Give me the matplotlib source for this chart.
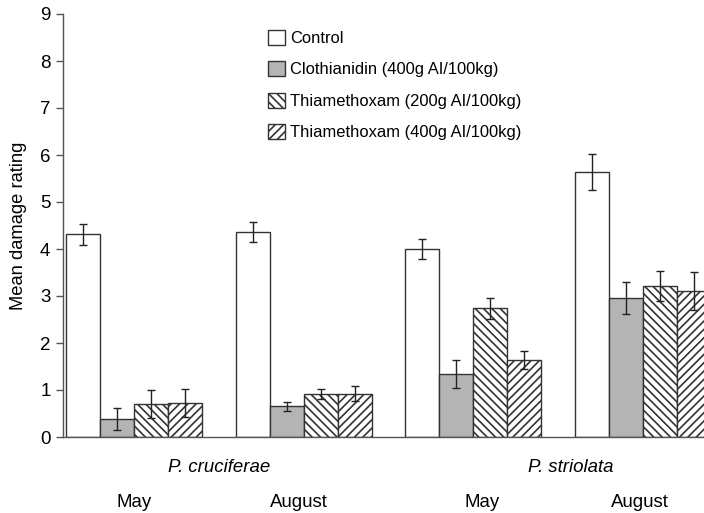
import matplotlib
matplotlib.use("Agg")
import matplotlib.pyplot as plt
import numpy as np

plt.rcParams['font.family'] = ['Liberation Sans', 'DejaVu Sans']
plt.rcParams['hatch.linewidth'] = 1.2

months = ["May", "August", "May", "August"]
species = ["P. cruciferae", "P. striolata"]
treatments = ["Control", "Clothianidin (400g AI/100kg)",
              "Thiamethoxam (200g AI/100kg)", "Thiamethoxam (400g AI/100kg)"]

control = [4.31, 4.36, 4.00, 5.64]
control_err = [0.23, 0.21, 0.22, 0.38]
clothianidin = [0.38, 0.65, 1.34, 2.96]
clothianidin_err = [0.24, 0.09, 0.30, 0.34]
thia200 = [0.70, 0.91, 2.74, 3.21]
thia200_err = [0.30, 0.11, 0.22, 0.32]
thia400 = [0.72, 0.92, 1.64, 3.11]
thia400_err = [0.30, 0.16, 0.19, 0.40]

series = [control, clothianidin, thia200, thia400]
errors = [control_err, clothianidin_err, thia200_err, thia400_err]
faces = ["white", "#b4b4b4", "white", "white"]
hatches = [None, None, "\\\\\\\\", "////"]

fig = plt.figure(figsize=(7.04, 5.13), dpi=100)
ax = fig.add_axes([63/704, 76/513, 641/704, 423/513])

x = np.arange(len(months))
w = 0.2
edge = "#333333"
for i, (vals, errs) in enumerate(zip(series, errors)):
    pos = x + (i - 1.5) * w
    ax.bar(pos, vals, width=w, color=faces[i], edgecolor=edge, linewidth=1.0,
           hatch=hatches[i], label=treatments[i], zorder=2)
    ax.errorbar(pos, vals, yerr=errs, fmt="none", ecolor="#222222",
                elinewidth=1.0, capsize=3, capthick=1.0, zorder=3)

ax.set_xlim(-0.418, 3.359)
ax.set_ylim(0, 9)
ax.set_yticks(range(0, 10))
ax.tick_params(axis="y", labelsize=13.5, direction="out", length=5,
               color="#555555", width=1, pad=4)
ax.set_xticks([])
for s in ["top", "right"]:
    ax.spines[s].set_visible(False)
for s in ["left", "bottom"]:
    ax.spines[s].set_color("#555555")
    ax.spines[s].set_linewidth(1.0)

ax.set_ylabel("Mean damage rating", fontsize=13.2, labelpad=9)

xt = ax.get_xaxis_transform()
month_shift = [0.0, -0.03, 0.05, -0.02]
for xi, m, dx in zip(x, months, month_shift):
    ax.text(xi + dx, -0.154, m, transform=xt, ha="center", va="center",
            fontsize=13.4)

ax.text(0.5, -0.072, species[0], transform=xt,
        ha="center", va="center", fontsize=13.4, style="italic")
ax.text(2.575, -0.072, species[1], transform=xt,
        ha="center", va="center", fontsize=13.4, style="italic")

leg = ax.legend(loc="upper left", bbox_to_anchor=(0.31, 0.978), frameon=False,
                fontsize=11.9, handlelength=1.0, handleheight=1.0,
                handletextpad=0.3, labelspacing=0.93, borderaxespad=0)

fig.savefig("out.png", dpi=100)
